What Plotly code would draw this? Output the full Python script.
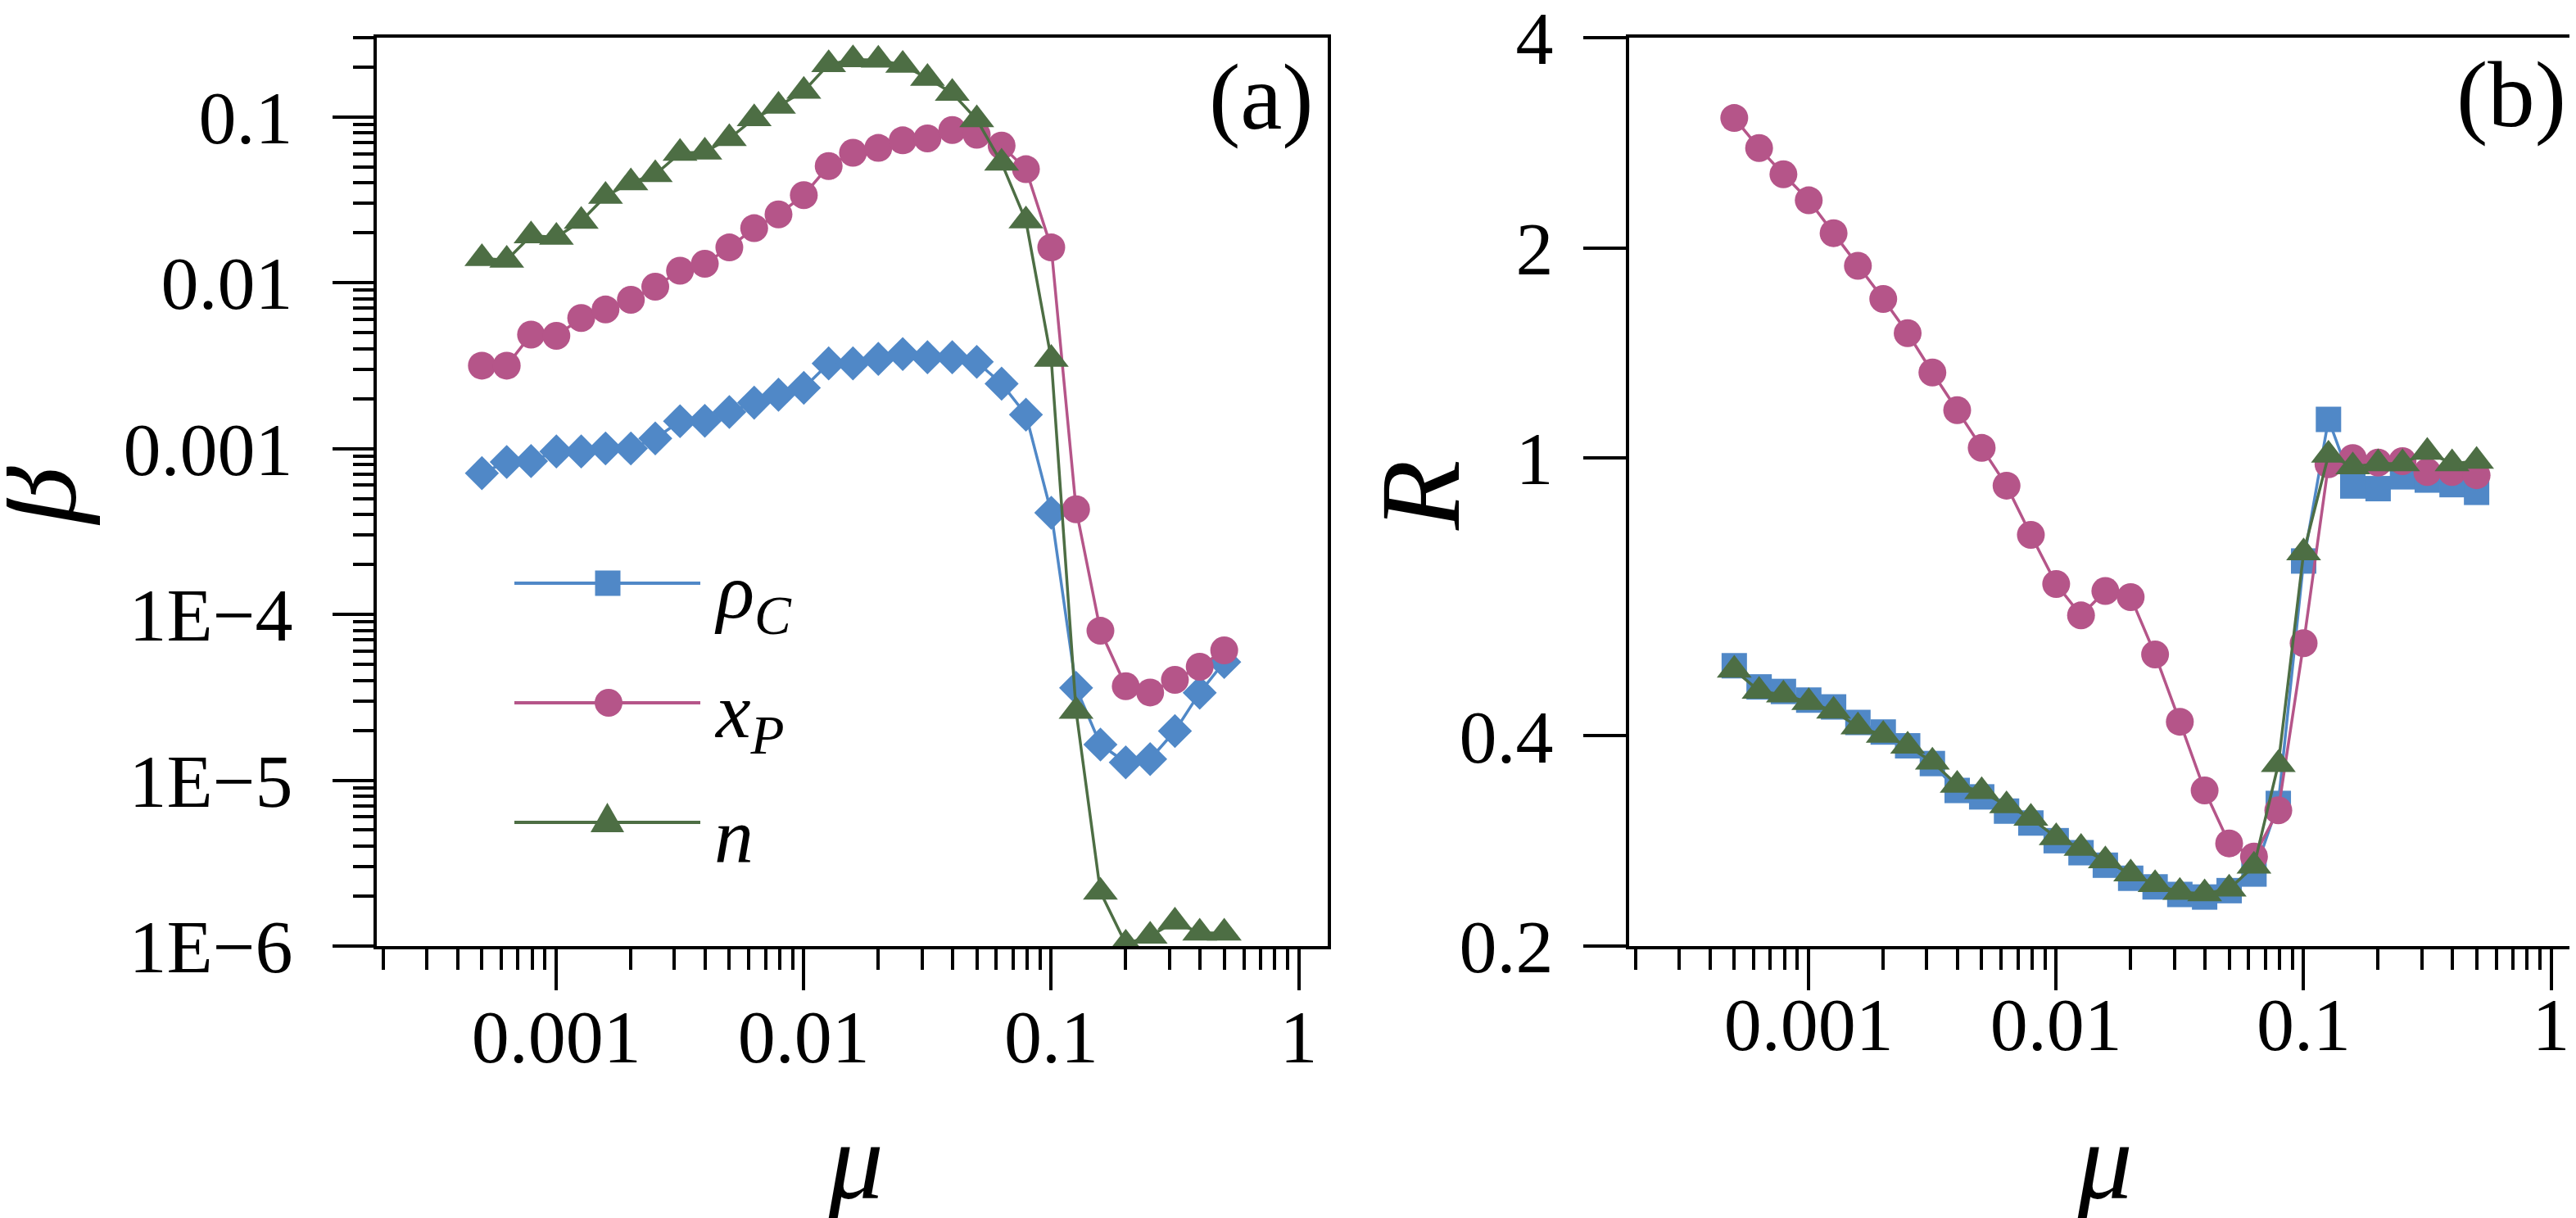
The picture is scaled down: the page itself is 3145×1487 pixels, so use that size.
import math
import plotly.graph_objects as go

# mu grid (log spaced)
mu = [0.0005, 0.00063, 0.00079, 0.001, 0.00126, 0.00158, 0.002, 0.00251, 0.00316, 0.00398,
      0.005, 0.0063, 0.0079, 0.01, 0.0126, 0.0158, 0.02, 0.0251, 0.0316, 0.0398,
      0.05, 0.063, 0.079, 0.1, 0.126, 0.158, 0.2, 0.251, 0.316, 0.398, 0.5]

# panel (a): beta
beta_rho = [7.1e-4, 8.3e-4, 8.4e-4, 9.6e-4, 9.6e-4, 1.0e-3, 1.0e-3, 1.15e-3, 1.46e-3, 1.47e-3,
            1.66e-3, 1.89e-3, 2.11e-3, 2.32e-3, 3.26e-3, 3.26e-3, 3.47e-3, 3.71e-3, 3.55e-3, 3.55e-3,
            3.33e-3, 2.46e-3, 1.60e-3, 4.1e-4, 3.6e-5, 1.64e-5, 1.28e-5, 1.34e-5, 1.98e-5, 3.37e-5, 5.16e-5]
beta_x = [3.16e-3, 3.16e-3, 4.86e-3, 4.78e-3, 6.12e-3, 6.89e-3, 7.89e-3, 9.46e-3, 1.18e-2, 1.30e-2,
          1.63e-2, 2.13e-2, 2.58e-2, 3.37e-2, 5.05e-2, 6.07e-2, 6.49e-2, 7.21e-2, 7.4e-2, 8.33e-2,
          7.8e-2, 6.7e-2, 4.83e-2, 1.63e-2, 4.3e-4, 7.96e-5, 3.69e-5, 3.38e-5, 4.03e-5, 4.83e-5, 6.06e-5]
beta_n = [0.0140, 0.0137, 0.0192, 0.0188, 0.0235, 0.0332, 0.0401, 0.0449, 0.0604, 0.0614,
          0.074, 0.0977, 0.116, 0.143, 0.207, 0.221, 0.220, 0.205, 0.171, 0.139,
          0.0961, 0.0527, 0.0236, 0.00346, 2.61e-5, 2.12e-6, 1.03e-6, 1.15e-6, 1.4e-6, 1.2e-6, 1.2e-6]

# panel (b): R
R_rho = [0.504, 0.470, 0.463, 0.45, 0.44, 0.418, 0.405, 0.387, 0.365, 0.334,
         0.327, 0.312, 0.30, 0.283, 0.272, 0.261, 0.25, 0.243, 0.237, 0.235,
         0.24, 0.2535, 0.32, 0.712, 1.136, 0.912, 0.904, 0.94, 0.93, 0.916, 0.893]
R_x = [3.07, 2.78, 2.55, 2.34, 2.10, 1.886, 1.69, 1.51, 1.326, 1.171,
       1.034, 0.913, 0.776, 0.660, 0.595, 0.645, 0.632, 0.523, 0.419, 0.334,
       0.2805, 0.2685, 0.3128, 0.543, 0.98, 1.0, 0.985, 0.99, 0.955, 0.955, 0.945]
R_n = [0.497, 0.4636, 0.458, 0.4466, 0.434, 0.412, 0.401, 0.3867, 0.367, 0.340,
       0.333, 0.3177, 0.305, 0.286, 0.276, 0.265, 0.2537, 0.245, 0.2388, 0.2377,
       0.2413, 0.2603, 0.364, 0.732, 1.01, 0.972, 0.982, 0.982, 1.02, 0.982, 0.99]

x_ticks = [0.001, 0.01, 0.1, 1]
x_ticktext = ["0.001", "0.01", "0.1", "1"]
ya_ticks = [1e-6, 1e-5, 1e-4, 0.001, 0.01, 0.1]
ya_ticktext = ["1E\u22126", "1E\u22125", "1E\u22124", "0.001", "0.01", "0.1"]
yb_ticks = [0.2, 0.4, 1, 2, 4]
yb_ticktext = ["0.2", "0.4", "1", "2", "4"]

blue = "#5088c7"
pink = "#b55589"
green = "#4d6e44"
FONT = "Liberation Serif"

W, H = 3145, 1487
def fx(p):
    return p / W
def fy(p):
    return 1 - p / H

fig = go.Figure()

for ys, c, sym, sz in [(beta_rho, blue, "diamond", 32), (beta_x, pink, "circle", 34),
                       (beta_n, green, "triangle-up", 37)]:
    fig.add_trace(go.Scatter(x=mu, y=ys, mode="lines+markers", xaxis="x", yaxis="y",
                             line=dict(color=c, width=3.5),
                             marker=dict(symbol=sym, size=sz, color=c, line=dict(width=0)),
                             showlegend=False))

for ys, c, sym, sz in [(R_rho, blue, "square", 31), (R_x, pink, "circle", 34),
                       (R_n, green, "triangle-up", 37)]:
    fig.add_trace(go.Scatter(x=mu, y=ys, mode="lines+markers", xaxis="x2", yaxis="y2",
                             line=dict(color=c, width=3.5),
                             marker=dict(symbol=sym, size=sz, color=c, line=dict(width=0)),
                             showlegend=False))

x_minor = [m * 10 ** e for e in range(-4, 1) for m in range(2, 10)]
ya_minor = [m * 10 ** e for e in range(-6, 0) for m in range(2, 10)]

common = dict(type="log", showline=True, linewidth=4, linecolor="black", mirror=True,
              ticks="outside", tickwidth=4, tickcolor="black", ticklen=50,
              showgrid=False, zeroline=False, ticklabeloverflow="allow", automargin=False,
              tickfont=dict(family=FONT, size=92, color="black"))
xminor = dict(tickmode="array", tickvals=x_minor, ticks="outside", ticklen=25,
              tickwidth=4, tickcolor="black", showgrid=False)

xr = [math.log10(0.000188), math.log10(1.31)]
dom_y = [fy(1147), fy(38)]

fig.update_layout(
    width=W, height=H,
    margin=dict(l=0, r=0, t=0, b=0, autoexpand=False),
    paper_bgcolor="white", plot_bgcolor="white",
    showlegend=False,
    xaxis=dict(common, domain=[fx(452), fx(1613)], range=xr, anchor="y",
               tickmode="array", tickvals=x_ticks, ticktext=x_ticktext, minor=xminor,
               ticklabelstandoff=-22),
    yaxis=dict(common, domain=dom_y, range=[-6.0001, math.log10(0.3)], anchor="x",
               tickmode="array", tickvals=ya_ticks, ticktext=ya_ticktext,
               minor=dict(tickmode="array", tickvals=ya_minor, ticks="outside", ticklen=25,
                          tickwidth=4, tickcolor="black", showgrid=False),
               ticklabelstandoff=30),
    xaxis2=dict(common, domain=[fx(1981), fx(3142)], range=xr, anchor="y2",
                tickmode="array", tickvals=x_ticks, ticktext=x_ticktext, minor=xminor,
                ticklabelstandoff=-37),
    yaxis2=dict(common, domain=dom_y, range=[math.log10(0.1999), math.log10(4.002)], anchor="x2",
                tickmode="array", tickvals=yb_ticks, ticktext=yb_ticktext,
                ticklen=52, ticklabelstandoff=18),
)

ann = []
# axis titles
ann.append(dict(text="<i>\u03b2</i>", x=fx(36), y=fy(598), textangle=-90,
                font=dict(family=FONT, size=140, color="black")))
ann.append(dict(text="<i>R</i>", x=fx(1725), y=fy(597), textangle=-90,
                font=dict(family=FONT, size=140, color="black")))
ann.append(dict(text="<i>\u03bc</i>", x=fx(1036), y=fy(1409),
                font=dict(family=FONT, size=135, color="black")))
ann.append(dict(text="<i>\u03bc</i>", x=fx(2561), y=fy(1409),
                font=dict(family=FONT, size=135, color="black")))
# panel labels
ann.append(dict(text="(a)", x=fx(1598), y=fy(110), xanchor="right",
                font=dict(family=FONT, size=115, color="black")))
ann.append(dict(text="(b)", x=fx(3127), y=fy(107), xanchor="right",
                font=dict(family=FONT, size=115, color="black")))

# hand-made legend inside panel (a)
leg_items = [("<i>\u03c1</i><sub><i>C</i></sub>", blue, 704),
             ("<i>x</i><sub><i>P</i></sub>", pink, 850),
             ("<i>n</i>", green, 996)]
shapes = []
for label, c, ly in leg_items:
    shapes.append(dict(type="line", xref="paper", yref="paper", x0=fx(620), x1=fx(847),
                       y0=fy(ly), y1=fy(ly), line=dict(color=c, width=4)))
    ann.append(dict(text=label, x=fx(862), y=fy(ly + 16), xanchor="left", yanchor="middle",
                    font=dict(family=FONT, size=96, color="black")))
shapes.append(dict(type="rect", xref="paper", yref="paper", x0=fx(718.5), x1=fx(749.5),
                   y0=fy(719.5), y1=fy(688.5), fillcolor=blue, line=dict(width=0)))
shapes.append(dict(type="circle", xref="paper", yref="paper", x0=fx(718), x1=fx(752),
                   y0=fy(867), y1=fy(833), fillcolor=pink, line=dict(width=0)))
shapes.append(dict(type="path", xref="paper", yref="paper",
                   path="M {} {} L {} {} L {} {} Z".format(fx(713), fy(1008), fx(754), fy(1008),
                                                         fx(733.5), fy(972)),
                   fillcolor=green, line=dict(width=0)))

for a in ann:
    a.setdefault("xref", "paper")
    a.setdefault("yref", "paper")
    a.setdefault("xanchor", "center")
    a.setdefault("yanchor", "middle")
    a.setdefault("showarrow", False)
fig.update_layout(annotations=ann, shapes=shapes)

fig.write_html("out.html")
